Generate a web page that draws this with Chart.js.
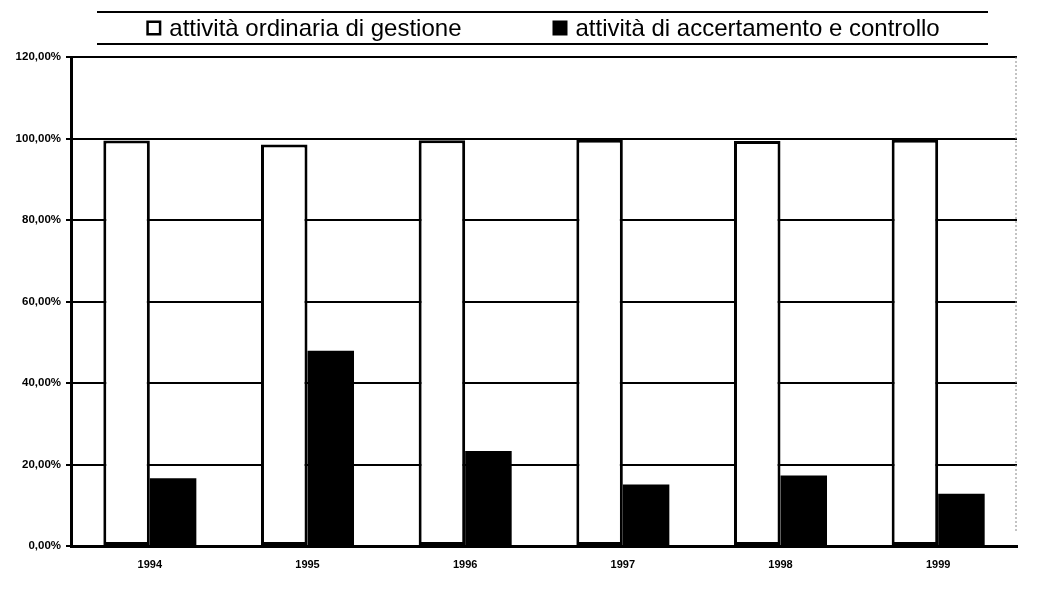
<!DOCTYPE html>
<html>
<head>
<meta charset="utf-8">
<script src="https://cdn.jsdelivr.net/npm/chart.js@4"></script>
<style>
  body { margin: 0; background: #fff; }
</style>
</head>
<body>
<canvas id="chart" width="1039" height="594"></canvas>
<script>
const years = ['1994', '1995', '1996', '1997', '1998', '1999'];
const gestione = [99.5, 98.5, 99.6, 99.7, 99.4, 99.7];
const controllo = [16.6, 47.9, 23.3, 15.1, 17.3, 12.8];
const yTicks = [0, 20, 40, 60, 80, 100, 120];
const seriesNames = ['attività ordinaria di gestione', 'attività di accertamento e controllo'];

const FONT = '"Liberation Sans", Arial, sans-serif';

// legend drawn between two rules above the plot
const ruledLegend = {
  id: 'ruledLegend',
  afterDraw(chart) {
    const ctx = chart.ctx;
    ctx.save();
    ctx.strokeStyle = '#000';
    ctx.lineWidth = 2;
    [12, 44].forEach(y => {
      ctx.beginPath();
      ctx.moveTo(97, y);
      ctx.lineTo(988, y);
      ctx.stroke();
    });

    ctx.font = '24px ' + FONT;
    ctx.textBaseline = 'middle';
    ctx.textAlign = 'left';
    const box = 15, gap = 8, spacing = 91, cy = 28;
    const widths = chart.data.datasets.map(ds => box + gap + ctx.measureText(ds.label).width);
    let x = 543 - (widths[0] + spacing + widths[1]) / 2;
    chart.data.datasets.forEach((ds, i) => {
      if (i === 0) {
        ctx.fillStyle = '#fff';
        ctx.fillRect(x, cy - box / 2, box, box);
        ctx.lineWidth = 2.5;
        ctx.strokeRect(x + 1.25, cy - box / 2 + 1.25, box - 2.5, box - 2.5);
      } else {
        ctx.fillStyle = '#000';
        ctx.fillRect(x, cy - box / 2, box, box);
      }
      ctx.fillStyle = '#000';
      ctx.fillText(ds.label, x + box + gap, cy + 1);
      x += widths[i] + spacing;
    });
    ctx.restore();
  }
};

// faint dotted edge on the right of the plot
const rightEdge = {
  id: 'rightEdge',
  beforeDatasetsDraw(chart) {
    const {ctx, chartArea} = chart;
    ctx.save();
    ctx.strokeStyle = '#888';
    ctx.lineWidth = 1;
    ctx.setLineDash([2, 2]);
    ctx.beginPath();
    ctx.moveTo(chartArea.right - 1, chartArea.top);
    ctx.lineTo(chartArea.right - 1, chartArea.bottom - 15);
    ctx.stroke();
    ctx.restore();
  }
};

new Chart(document.getElementById('chart'), {
  type: 'bar',
  data: {
    labels: years,
    datasets: [
      {
        label: seriesNames[0],
        data: gestione,
        backgroundColor: '#fff',
        borderColor: '#000',
        borderWidth: 3,
        borderSkipped: false
      },
      {
        label: seriesNames[1],
        data: controllo,
        backgroundColor: '#000',
        borderWidth: 0
      }
    ]
  },
  options: {
    responsive: false,
    animation: false,
    devicePixelRatio: 1,
    layout: { padding: { top: 57, right: 22, left: 0, bottom: 0 } },
    datasets: {
      bar: { categoryPercentage: 0.59, barPercentage: 1 }
    },
    plugins: {
      legend: { display: false },
      tooltip: { enabled: false }
    },
    scales: {
      x: {
        grid: { display: false },
        border: { color: '#000', width: 3 },
        ticks: {
          color: '#000',
          padding: 4,
          font: { family: FONT, size: 11, weight: 'bold' }
        },
        afterFit: s => { s.height = 48; }
      },
      y: {
        min: 0,
        max: 120,
        border: { color: '#000', width: 3 },
        grid: { color: '#000', lineWidth: 2, tickLength: 5 },
        ticks: {
          color: '#000',
          padding: 5,
          font: { family: FONT, size: 11.5, weight: 'bold' },
          callback: v => v.toFixed(2).replace('.', ',') + '%'
        },
        afterBuildTicks: s => { s.ticks = yTicks.map(v => ({ value: v })); },
        afterFit: s => { s.width = 71; }
      }
    }
  },
  plugins: [ruledLegend, rightEdge]
});
</script>
</body>
</html>
